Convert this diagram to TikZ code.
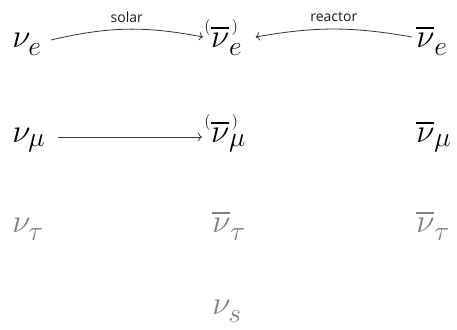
\documentclass[tikz,border=0pt]{standalone}
\usepackage{amsmath}
\usepackage{fontspec}
\setsansfont{Open Sans}
\usetikzlibrary{arrows.meta}
% small parentheses round the bar: particle or antiparticle
\newcommand{\tinypar}[1]{\raisebox{12pt}{\fontsize{12}{12}\selectfont#1}}
\newcommand{\nubarpar}[2]{\tinypar{(}\hspace{0.5pt}\overline{\nu}\makebox[0pt][l]{\hspace{2pt}\tinypar{)}}_{\raisebox{#2}{$\scriptstyle#1$}}}
\newcommand{\lowsub}[2]{_{\raisebox{#2}{$\scriptstyle#1$}}}

\begin{document}
\begin{tikzpicture}[x=0.75pt, y=-0.75pt]
\tikzset{
  flav/.style={anchor=base west, inner sep=0pt, font=\fontsize{30}{36}\selectfont},
  dim/.style={flav, text=black!50},
  osc/.style={->, line width=0.6pt, black!80},
  lbl/.style={font=\sffamily\fontsize{10.5}{12}\selectfont, black!90, inner sep=0pt}
}
\useasboundingbox (0,0) rectangle (457,329);
% first row: electron flavour
\node[flav] (le) at (12,47) {$\nu\lowsub{e}{-3pt}$};
\node[flav] (ce) at (204,47) {$\nubarpar{e}{-3pt}$};
\node[flav] (re) at (416,47) {$\overline{\nu}\lowsub{e}{-3pt}$};
% second row: muon flavour
\node[flav] (lm) at (12,142) {$\nu_\mu$};
\node[flav] (cm) at (204,142) {$\nubarpar{\mu}{0pt}$};
\node[flav] (rm) at (416,142) {$\overline{\nu}_\mu$};
% third row: tau flavour, greyed
\node[dim] (lt) at (12,232) {$\nu\lowsub{\tau}{-3pt}$};
\node[dim] (ct) at (212,232) {$\overline{\nu}\lowsub{\tau}{-3pt}$};
\node[dim] (rt) at (416,232) {$\overline{\nu}\lowsub{\tau}{-3pt}$};
% sterile
\node[dim] (cs) at (212,314) {$\nu\lowsub{s}{-2.5pt}$};
% oscillation channels
\draw[osc] ([shift={(9,-7)}]le.base east) to[bend left=12] node[lbl, above=5pt] {solar} ([shift={(-1,-10)}]ce.base west);
\draw[osc] ([shift={(-4,-10)}]re.base west) to[bend right=10] node[lbl, above=5pt] {reactor} ([shift={(13,-10)}]ce.base east);
\draw[osc] ([shift={(12,-5)}]lm.base east) -- ([shift={(-2,-5)}]cm.base west);
\end{tikzpicture}
\end{document}
